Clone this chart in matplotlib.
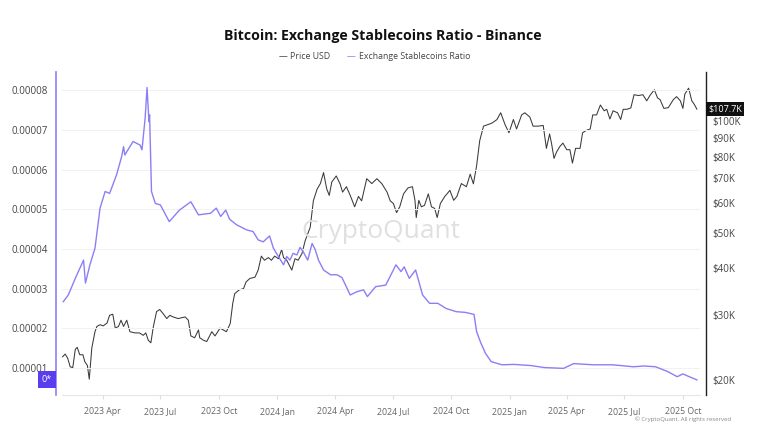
import pandas as pd
import numpy as np
import matplotlib
matplotlib.use('Agg')
import matplotlib.pyplot as plt
import matplotlib.ticker as mticker
import matplotlib.dates as mdates

plt.rcParams['font.family'] = ['Open Sans', 'DejaVu Sans']

# Exchange stablecoins ratio (values in units of 1e-5)
ratio_dates = ['2023-01-29', '2023-02-06', '2023-02-17', '2023-03-02', '2023-03-05', '2023-03-12',
               '2023-03-20', '2023-03-28', '2023-04-05', '2023-04-12', '2023-04-23', '2023-05-01',
               '2023-05-04', '2023-05-06', '2023-05-19', '2023-05-30', '2023-06-02', '2023-06-07',
               '2023-06-10', '2023-06-13', '2023-06-14', '2023-06-17', '2023-06-23', '2023-07-01',
               '2023-07-15', '2023-07-31', '2023-08-18', '2023-08-30', '2023-09-18', '2023-09-27',
               '2023-10-04', '2023-10-12', '2023-10-18', '2023-10-29', '2023-11-14', '2023-11-24',
               '2023-12-02', '2023-12-10', '2023-12-20', '2023-12-26', '2024-01-03', '2024-01-11',
               '2024-01-16', '2024-01-21', '2024-01-26', '2024-02-01', '2024-02-06', '2024-02-11',
               '2024-02-18', '2024-02-25', '2024-03-01', '2024-03-06', '2024-03-14', '2024-03-25',
               '2024-04-04', '2024-04-12', '2024-04-25', '2024-05-05', '2024-05-16', '2024-05-22',
               '2024-06-04', '2024-06-20', '2024-07-06', '2024-07-14', '2024-07-19', '2024-07-27',
               '2024-08-06', '2024-08-17', '2024-08-28', '2024-09-10', '2024-09-23', '2024-10-09',
               '2024-10-24', '2024-11-06', '2024-11-10', '2024-11-16', '2024-11-24', '2024-12-03',
               '2024-12-20', '2025-01-08', '2025-02-04', '2025-02-25', '2025-03-27', '2025-04-12',
               '2025-05-13', '2025-06-13', '2025-07-15', '2025-08-01', '2025-08-19', '2025-09-07',
               '2025-09-22', '2025-10-01', '2025-10-11', '2025-10-23']
ratio_vals = [2.67, 2.84, 3.26, 3.72, 3.14, 3.60,
              4.02, 5.03, 5.45, 5.40, 5.87, 6.33,
              6.58, 6.37, 6.71, 6.62, 6.50, 7.30,
              8.07, 7.21, 7.38, 5.45, 5.15, 5.11,
              4.69, 4.98, 5.19, 4.86, 4.90, 5.03,
              4.82, 4.98, 4.75, 4.61, 4.48, 4.44,
              4.23, 4.18, 4.33, 4.02, 3.81, 3.60,
              3.81, 3.72, 3.89, 3.85, 4.04, 3.93,
              3.72, 4.14, 3.98, 3.72, 3.47, 3.35,
              3.35, 3.28, 2.84, 2.92, 2.97, 2.80,
              3.05, 3.09, 3.60, 3.43, 3.55, 3.26,
              3.47, 2.84, 2.63, 2.63, 2.50, 2.42,
              2.40, 2.35, 1.92, 1.66, 1.37, 1.16,
              1.08, 1.09, 1.06, 1.01, 0.99, 1.11,
              1.08, 1.08, 1.03, 1.05, 1.03, 0.91,
              0.78, 0.85, 0.78, 0.70]

# BTC price in thousands of USD
price_dates = ['2023-01-28', '2023-02-01', '2023-02-05', '2023-02-09', '2023-02-13', '2023-02-17',
               '2023-02-20', '2023-02-24', '2023-03-01', '2023-03-04', '2023-03-08', '2023-03-11',
               '2023-03-15', '2023-03-20', '2023-03-23', '2023-03-28', '2023-04-02', '2023-04-08',
               '2023-04-12', '2023-04-17', '2023-04-21', '2023-04-26', '2023-04-30', '2023-05-04',
               '2023-05-09', '2023-05-14', '2023-05-22', '2023-05-29', '2023-06-04', '2023-06-08',
               '2023-06-12', '2023-06-16', '2023-06-20', '2023-06-25', '2023-06-30', '2023-07-06',
               '2023-07-11', '2023-07-16', '2023-07-21', '2023-07-29', '2023-08-09', '2023-08-14',
               '2023-08-18', '2023-08-24', '2023-08-30', '2023-09-01', '2023-09-07', '2023-09-12',
               '2023-09-20', '2023-09-25', '2023-10-03', '2023-10-08', '2023-10-13', '2023-10-19',
               '2023-10-23', '2023-10-26', '2023-11-02', '2023-11-09', '2023-11-13', '2023-11-19',
               '2023-11-27', '2023-12-02', '2023-12-07', '2023-12-12', '2023-12-18', '2023-12-23',
               '2023-12-28', '2024-01-03', '2024-01-08', '2024-01-11', '2024-01-16', '2024-01-24',
               '2024-01-29', '2024-02-03', '2024-02-09', '2024-02-14', '2024-02-22', '2024-02-27',
               '2024-03-04', '2024-03-09', '2024-03-14', '2024-03-19', '2024-03-23', '2024-03-27',
               '2024-04-03', '2024-04-09', '2024-04-13', '2024-04-19', '2024-04-25', '2024-05-02',
               '2024-05-08', '2024-05-13', '2024-05-21', '2024-05-29', '2024-06-06', '2024-06-14',
               '2024-06-22', '2024-06-27', '2024-07-02', '2024-07-07', '2024-07-12', '2024-07-18',
               '2024-07-25', '2024-08-01', '2024-08-05', '2024-08-07', '2024-08-11', '2024-08-15',
               '2024-08-20', '2024-08-26', '2024-08-31', '2024-09-05', '2024-09-09', '2024-09-14',
               '2024-09-21', '2024-09-29', '2024-10-05', '2024-10-10', '2024-10-17', '2024-10-25',
               '2024-10-31', '2024-11-05', '2024-11-10', '2024-11-15', '2024-11-21', '2024-11-27',
               '2024-12-04', '2024-12-12', '2024-12-18', '2024-12-25', '2024-12-31', '2025-01-07',
               '2025-01-12', '2025-01-20', '2025-01-25', '2025-02-02', '2025-02-07', '2025-02-15',
               '2025-02-23', '2025-02-28', '2025-03-05', '2025-03-08', '2025-03-12', '2025-03-16',
               '2025-03-21', '2025-03-26', '2025-04-01', '2025-04-06', '2025-04-10', '2025-04-15',
               '2025-04-22', '2025-04-26', '2025-05-02', '2025-05-08', '2025-05-12', '2025-05-18',
               '2025-05-24', '2025-05-30', '2025-06-03', '2025-06-08', '2025-06-13', '2025-06-20',
               '2025-06-25', '2025-06-29', '2025-07-05', '2025-07-11', '2025-07-16', '2025-07-23',
               '2025-07-30', '2025-08-05', '2025-08-10', '2025-08-17', '2025-08-22', '2025-08-26',
               '2025-09-01', '2025-09-08', '2025-09-16', '2025-09-21', '2025-09-27', '2025-10-01',
               '2025-10-04', '2025-10-10', '2025-10-15', '2025-10-19', '2025-10-23']
price_vals = [23.1, 23.5, 22.9, 21.7, 21.6, 24.2,
              24.5, 23.4, 23.4, 22.4, 21.9, 20.1,
              24.4, 27.0, 27.9, 28.2, 28.0, 28.5,
              29.9, 30.1, 27.6, 27.9, 29.0, 27.9,
              29.0, 27.0, 26.8, 26.8, 26.4, 26.8,
              25.6, 25.2, 27.9, 30.6, 31.0, 30.1,
              29.3, 29.9, 29.6, 29.3, 29.6, 29.0,
              26.3, 26.0, 27.3, 26.0, 25.6, 25.4,
              27.0, 26.3, 27.6, 27.3, 27.0, 28.4,
              32.2, 34.2, 35.0, 35.3, 36.8, 37.6,
              37.9, 39.6, 43.2, 42.1, 42.8, 42.1,
              43.2, 42.5, 45.0, 42.8, 42.1, 39.6,
              42.5, 42.1, 43.9, 47.5, 51.7, 61.0,
              65.6, 67.8, 72.6, 65.6, 63.0, 68.5,
              71.1, 67.7, 64.3, 66.5, 63.0, 58.7,
              62.6, 60.9, 69.9, 67.8, 69.9, 67.7,
              64.3, 60.9, 59.9, 56.6, 58.7, 63.6,
              66.0, 66.5, 61.1, 54.9, 61.1, 58.7,
              59.2, 63.6, 58.7, 58.1, 54.9, 59.9,
              62.6, 65.0, 61.1, 62.6, 67.8, 66.5,
              71.9, 67.7, 75.6, 88.6, 96.9, 97.7,
              98.7, 100.9, 105.3, 97.7, 93.0, 101.0,
              95.2, 103.9, 105.3, 102.5, 96.9, 96.9,
              97.3, 84.4, 92.3, 87.2, 79.3, 82.5,
              85.3, 87.2, 83.7, 83.7, 77.0, 84.4,
              84.4, 93.0, 94.4, 95.2, 103.9, 103.9,
              110.5, 106.6, 107.6, 101.3, 106.6, 105.3,
              101.0, 107.6, 107.6, 108.5, 117.8, 117.2,
              117.8, 113.4, 117.2, 121.5, 115.5, 114.3,
              108.2, 108.7, 114.3, 116.4, 113.4, 108.2,
              118.2, 122.7, 113.4, 110.9, 107.7]

ratio_ticks = [1, 2, 3, 4, 5, 6, 7, 8]
price_ticks = [20, 30, 40, 50, 60, 70, 80, 90, 100]
x_ticks = ['2023-04-01', '2023-07-01', '2023-10-01', '2024-01-01', '2024-04-01', '2024-07-01',
           '2024-10-01', '2025-01-01', '2025-04-01', '2025-07-01', '2025-10-01']

purple = '#8b7ff6'
rd = pd.to_datetime(ratio_dates)
pdt = pd.to_datetime(price_dates)
ratio = np.array(ratio_vals) * 1e-5
price = np.array(price_vals) * 1000

fig = plt.figure(figsize=(7.66, 4.26), dpi=100)
ax = fig.add_axes([0.0809, 0.0728, 0.833, 0.758])
ax2 = ax.twinx()

ax.set_zorder(ax2.get_zorder() + 1)
ax.patch.set_visible(False)

ax2.plot(pdt, price, color='#3a3a3a', lw=0.75)
ax.plot(rd, ratio, color=purple, lw=1.0)

ax.set_xlim(pd.Timestamp('2023-01-27'), pd.Timestamp('2025-10-28'))
ax.set_ylim(0.319e-5, 8.46e-5)
ax.set_yticks([t * 1e-5 for t in ratio_ticks])
ax.yaxis.set_major_formatter(mticker.FuncFormatter(lambda v, p: f'{v:.5f}'))
ax.grid(axis='y', color='#f1f1f1', lw=0.7)
ax.set_axisbelow(True)

ax2.set_yscale('log')
ax2.set_ylim(18220, 135600)
ax2.yaxis.set_major_locator(mticker.FixedLocator([t * 1000 for t in price_ticks]))
ax2.yaxis.set_minor_locator(mticker.NullLocator())
ax2.set_yticklabels([f'${t}K' for t in price_ticks])

ax.set_xticks(pd.to_datetime(x_ticks))
ax.xaxis.set_major_formatter(mdates.DateFormatter('%Y %b'))

for a in (ax, ax2):
    for s in a.spines.values():
        s.set_visible(False)
ax.spines['left'].set_visible(True)
ax.spines['left'].set_color(purple)
ax.spines['left'].set_linewidth(1.2)
ax.spines['left'].set_position(('outward', 4))
ax.spines['bottom'].set_visible(True)
ax.spines['bottom'].set_color('#e6e6e6')
ax.spines['bottom'].set_linewidth(0.8)
ax2.spines['right'].set_visible(True)
ax2.spines['right'].set_color('#222222')
ax2.spines['right'].set_linewidth(1.0)
ax2.spines['right'].set_position(('outward', 4))

ax.tick_params(axis='y', length=0, pad=6, labelsize=7, labelcolor='#444444')
ax.tick_params(axis='x', length=3, color='#dddddd', pad=6, labelsize=6.3, labelcolor='#666666')
ax2.tick_params(axis='y', length=0, pad=5, labelsize=7, labelcolor='#444444')

fig.text(0.5, 0.915, 'Bitcoin: Exchange Stablecoins Ratio - Binance', ha='center', va='center',
         fontsize=10.2, fontweight='bold', color='#111111')

# legend
fig.text(0.398, 0.868, '\u2014 Price USD', ha='center', va='center', fontsize=6.3, color='#444444')
fig.text(0.458, 0.868, '\u2014', ha='center', va='center', fontsize=6.3, color=purple)
fig.text(0.541, 0.868, 'Exchange Stablecoins Ratio', ha='center', va='center', fontsize=6.3,
         color='#444444')

ax.text(0.5, 0.505, 'CryptoQuant', transform=ax.transAxes, ha='center', va='center',
        fontsize=19, color='#e0e0e0', zorder=0)

fig.text(0.955, 0.017, '\u00a9 CryptoQuant. All rights reserved', ha='right', va='center',
         fontsize=4.3, color='#888888')

# last value badges
ax2.annotate(f'${price_vals[-1]}K', xy=(1.0, price[-1]), xycoords=('axes fraction', 'data'),
             xytext=(6, 0), textcoords='offset points', ha='left', va='center', fontsize=6.5,
             color='white', bbox=dict(boxstyle='square,pad=0.25', fc='#111111', ec='none'))
ax.annotate('0*', xy=(0.0, ratio[-1]), xycoords=('axes fraction', 'data'),
            xytext=(-7, 0), textcoords='offset points', ha='right', va='center', fontsize=6.5,
            color='white', bbox=dict(boxstyle='square,pad=0.45', fc='#5b3df0', ec='none'),
            annotation_clip=False)

fig.savefig('out.png', dpi=100)
